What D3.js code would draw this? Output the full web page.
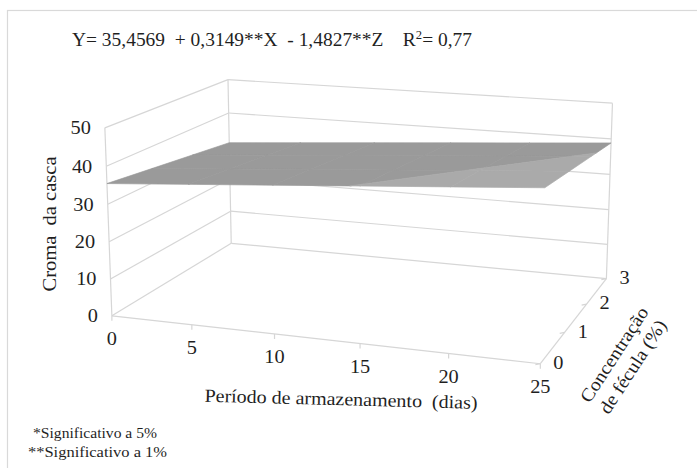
<!DOCTYPE html>
<html>
<head>
<meta charset="utf-8">
<script src="https://cdn.jsdelivr.net/npm/d3@7"></script>
<style>
  html, body { margin: 0; padding: 0; background: #fff; }
  svg { display: block; }
</style>
</head>
<body>
<svg id="chart" width="697" height="468"></svg>
<script>
// Storage period (days) on the width axis
const storageDays = [0, 5, 10, 15, 20, 25];
// Starch concentration (%) on the depth axis
const starchConc = [0, 1, 2, 3];
// Peel chroma of the fitted surface: one row per starch concentration,
// one value per storage day
const chromaByConc = [
  [35.46, 37.03, 38.61, 40.18, 41.75, 43.33],
  [33.97, 35.55, 37.12, 38.70, 40.27, 41.85],
  [32.49, 34.07, 35.64, 37.22, 38.79, 40.36],
  [31.01, 32.58, 34.16, 35.73, 37.31, 38.88]
];
// Axis ticks
const chromaTicks = [0, 10, 20, 30, 40, 50];
const dayTicks = [0, 5, 10, 15, 20, 25];
const concTicks = [0, 1, 2, 3];
// Value bands used to shade the surface
const bandEdges = [30, 40, 50];
const bandColors = ["#9a9a9a", "#aaaaaa"];

const serif = "'Liberation Serif', 'DejaVu Serif', 'Times New Roman', Times, serif";
const svg = d3.select("#chart");

// ---- 3D box and camera ----
const boxW = 429, boxH = 187, boxD = 288;
const yaw = 19.4 * Math.PI / 180;
const pitch = 13.9 * Math.PI / 180;
const camDist = 1725;
const originX = 368, originY = 207;

const xS = d3.scaleLinear().domain(d3.extent(dayTicks)).range([-boxW / 2, boxW / 2]);
const yS = d3.scaleLinear().domain(d3.extent(chromaTicks)).range([-boxH / 2, boxH / 2]);
const zS = d3.scaleLinear().domain(d3.extent(concTicks)).range([-boxD / 2, boxD / 2]);

function project(x, y, z) {
  const px = xS(x), py = yS(y), pz = zS(z);
  const x1 = px * Math.cos(yaw) + pz * Math.sin(yaw);
  const z1 = -px * Math.sin(yaw) + pz * Math.cos(yaw);
  const y2 = py * Math.cos(pitch) + z1 * Math.sin(pitch);
  const z2 = z1 * Math.cos(pitch) - py * Math.sin(pitch);
  const s = camDist / (camDist + z2);
  return [originX + x1 * s, originY - y2 * s];
}

// chart area border
svg.append("rect")
  .attr("x", 7.5).attr("y", 10.5).attr("width", 720).attr("height", 480)
  .attr("fill", "none").attr("stroke", "#d9d9d9").attr("stroke-width", 1.2);

const [x0, x1] = d3.extent(dayTicks);
const [y0, y1] = d3.extent(chromaTicks);
const [z0, z1] = d3.extent(concTicks);

const frame = svg.append("g")
  .attr("fill", "none").attr("stroke", "#d6d6d6").attr("stroke-width", 1.2);

function seg(a, b) {
  frame.append("line")
    .attr("x1", a[0]).attr("y1", a[1]).attr("x2", b[0]).attr("y2", b[1]);
}

// side wall and back wall gridlines
chromaTicks.forEach(t => {
  seg(project(x0, t, z0), project(x0, t, z1));
  seg(project(x0, t, z1), project(x1, t, z1));
});
// wall verticals
seg(project(x0, y0, z0), project(x0, y1, z0));
seg(project(x0, y0, z1), project(x0, y1, z1));
seg(project(x1, y0, z1), project(x1, y1, z1));
// floor edges carrying the category and depth axes
seg(project(x0, y0, z0), project(x1, y0, z0));
seg(project(x1, y0, z0), project(x1, y0, z1));

// tick marks
dayTicks.forEach(d => {
  const p = project(d, y0, z0);
  seg(p, [p[0], p[1] + 5]);
});
concTicks.forEach(c => {
  const p = project(x1, y0, c);
  seg(p, [p[0] - 5, p[1] + 1]);
});

// ---- surface, shaded by value band ----
function clipHalf(poly, f) {
  const out = [];
  for (let i = 0; i < poly.length; i++) {
    const a = poly[i], b = poly[(i + 1) % poly.length];
    const fa = f(a), fb = f(b);
    if (fa >= 0) out.push(a);
    if ((fa >= 0) !== (fb >= 0)) {
      const t = fa / (fa - fb);
      out.push(a.map((v, k) => v + t * (b[k] - v)));
    }
  }
  return out;
}

const surf = svg.append("g");
const line = d3.line();
for (let i = starchConc.length - 2; i >= 0; i--) {
  for (let j = 0; j < storageDays.length - 1; j++) {
    const quad = [
      [storageDays[j], chromaByConc[i][j], starchConc[i]],
      [storageDays[j + 1], chromaByConc[i][j + 1], starchConc[i]],
      [storageDays[j + 1], chromaByConc[i + 1][j + 1], starchConc[i + 1]],
      [storageDays[j], chromaByConc[i + 1][j], starchConc[i + 1]]
    ];
    for (let b = 0; b < bandColors.length; b++) {
      const lo = bandEdges[b], hi = bandEdges[b + 1];
      let poly = clipHalf(quad, p => p[1] - lo);
      poly = clipHalf(poly, p => hi - p[1]);
      if (poly.length < 3) continue;
      const pts = poly.map(p => project(p[0], p[1], p[2]));
      surf.append("path")
        .attr("d", line(pts) + "Z")
        .attr("fill", bandColors[b])
        .attr("stroke", bandColors[b])
        .attr("stroke-width", 0.7)
        .attr("stroke-linejoin", "round");
    }
  }
}

// ---- labels ----
const labels = svg.append("g")
  .attr("font-family", serif)
  .attr("font-size", 18.5)
  .attr("fill", "#1f1f1f");

chromaTicks.forEach(t => {
  const p = project(x0, t, z0);
  labels.append("text")
    .attr("transform", `translate(${p[0] - 14},${p[1] + 2}) scale(1.1,1)`)
    .attr("text-anchor", "end").attr("dominant-baseline", "middle")
    .text(t);
});

dayTicks.forEach(d => {
  const p = project(d, y0, z0);
  labels.append("text")
    .attr("transform", `translate(${p[0]},${p[1] + 25}) scale(1.1,1)`)
    .attr("text-anchor", "middle").attr("dominant-baseline", "middle")
    .text(d);
});

concTicks.forEach(c => {
  const p = project(x1, y0, c);
  labels.append("text")
    .attr("transform", `translate(${p[0] + 13},${p[1] + 1}) scale(1.1,1)`)
    .attr("text-anchor", "start").attr("dominant-baseline", "middle")
    .text(c);
});

// axis titles
labels.append("text")
  .attr("transform", "translate(52,224) rotate(-90)")
  .attr("text-anchor", "middle").attr("dominant-baseline", "middle")
  .attr("textLength", 135).attr("lengthAdjust", "spacingAndGlyphs")
  .style("white-space", "pre")
  .text("Croma  da casca");

labels.append("text")
  .attr("transform", "translate(341,401) rotate(1.5)")
  .attr("text-anchor", "middle").attr("dominant-baseline", "middle")
  .attr("textLength", 273).attr("lengthAdjust", "spacingAndGlyphs")
  .style("white-space", "pre")
  .text("Período de armazenamento  (dias)");

const zTitle = labels.append("text")
  .attr("transform", "translate(624,361) rotate(-57) scale(1.08,1)")
  .attr("text-anchor", "middle");
zTitle.append("tspan").attr("x", 0).attr("dy", "-0.3em").text("Concentração");
zTitle.append("tspan").attr("x", 0).attr("dy", "1.2em").text("de fécula (%)");

// regression equation
const eq = labels.append("text")
  .attr("x", 72).attr("y", 46)
  .attr("textLength", 400).attr("lengthAdjust", "spacingAndGlyphs")
  .style("white-space", "pre");
eq.append("tspan").text("Y= 35,4569  + 0,3149**X  - 1,4827**Z    R");
eq.append("tspan").attr("font-size", 12).attr("dy", -7).text("2");
eq.append("tspan").attr("dy", 7).text("= 0,77");

// significance notes
const notes = svg.append("g")
  .attr("font-family", serif)
  .attr("font-size", 14.5)
  .attr("fill", "#1f1f1f");
notes.append("text").attr("x", 33).attr("y", 438)
  .attr("textLength", 124).attr("lengthAdjust", "spacingAndGlyphs")
  .text("*Significativo a 5%");
notes.append("text").attr("x", 28).attr("y", 457)
  .attr("textLength", 139).attr("lengthAdjust", "spacingAndGlyphs")
  .text("**Significativo a 1%");
</script>
</body>
</html>
